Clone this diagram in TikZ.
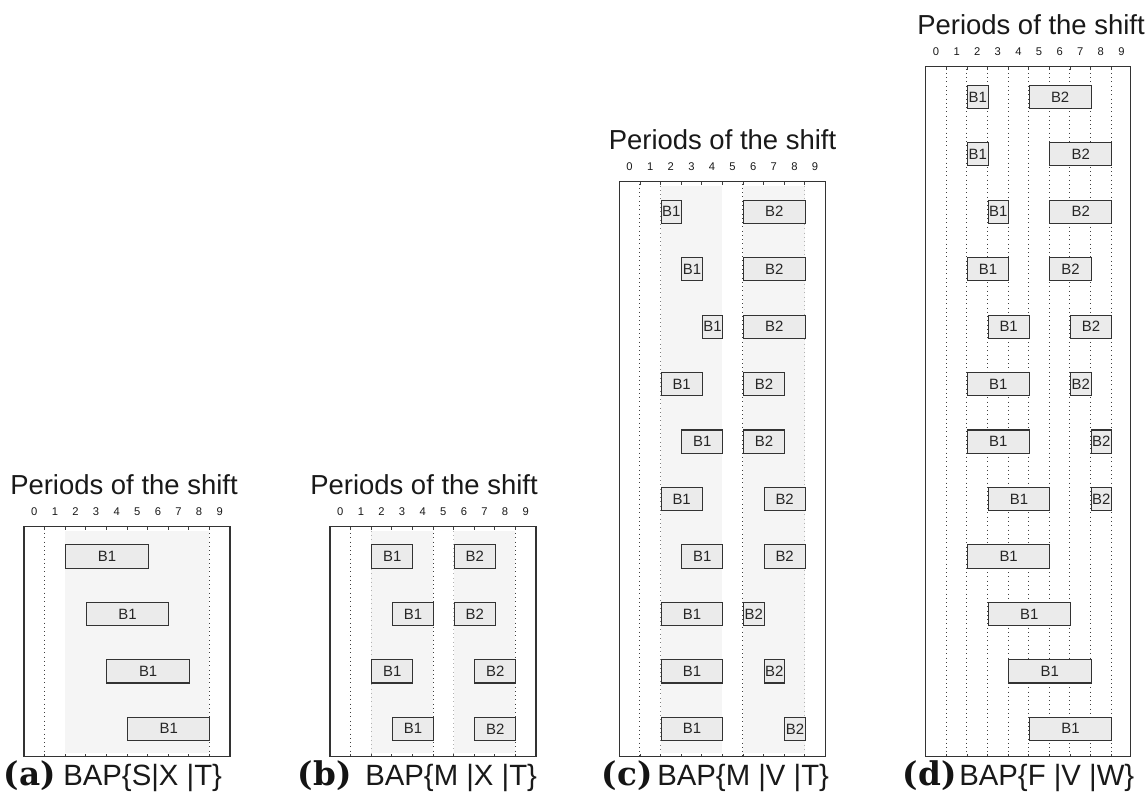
\documentclass[tikz,border=0pt]{standalone}
\usepackage{fontspec}
\setsansfont{Liberation Sans}
\newfontfamily\capserif{DejaVu Serif}
\begin{document}
\begin{tikzpicture}[x=0.75pt,y=-0.75pt,
  frame/.style={draw=black!80, line width=1.15pt},
  bx/.style={draw=black!80, fill=black!8, line width=0.8pt, inner sep=0pt,
    minimum height=17.4pt, anchor=north west, text=black!85,
    font=\sffamily\fontsize{11.2}{12}\selectfont},
  shd/.style={fill=black!4, draw=none},
  dotl/.style={black!75, line width=0.7pt, dash pattern=on 0.7pt off 2.5pt},
  dotm/.style={black!50, line width=0.6pt, dash pattern=on 0.7pt off 2.5pt},
  dotf/.style={black!30, line width=0.6pt, dash pattern=on 0.7pt off 2.5pt},
  tck/.style={black!75, line width=0.6pt},
  ttl/.style={font=\sffamily\fontsize{20.6}{24}\selectfont, anchor=base, text=black!90, inner sep=0pt},
  num/.style={font=\sffamily\fontsize{8.4}{10}\selectfont, anchor=base, text=black!90, inner sep=0pt},
  capb/.style={font=\capserif\bfseries\fontsize{24.5}{28}\selectfont, anchor=base east, inner sep=0pt, text=black!92},
  capt/.style={font=\sffamily\fontsize{22}{26}\selectfont, anchor=base west, inner sep=0pt, text=black!90}
]
\def\W{20.6}
\useasboundingbox (0,0) rectangle (1148,798);

% ---------------- panel (a) ----------------
\def\L{24}\def\T{526.7}\def\B{756.7}
\fill[shd] ({\L+2*\W},{\T+4}) rectangle ({\L+9*\W},{\B-4});
\foreach \i in {1,9} \draw[dotl] ({\L+\i*\W},{\T+2}) -- ({\L+\i*\W},\B);
\foreach \i in {1,...,9} {\draw[tck] ({\L+\i*\W},\T) -- ++(0,3); \draw[tck] ({\L+\i*\W},\B) -- ++(0,-3);}
\draw[frame] (\L,\T) rectangle ({\L+206},\B);
\node[ttl] (ta) at (124,{\T-32.5}) {Periods of the shift};
\foreach \i in {0,...,9} \node[num] (na\i) at ({\L+(\i+0.5)*\W},{\T-11}) {\i};
\foreach \s/\e [count=\k from 0] in {2/6,3/7,4/8,5/9}
  \node[bx, minimum width={(\e-\s)*\W*0.75pt}] (aA\k) at ({\L+\s*\W},{716.7-57.45*(3-\k)}) {B1};
\node[capb] (ca) at (56,785) {(a)};
\node[capt] (cta) at (63,785) {BAP\{S|X |T\}};

% ---------------- panel (b) ----------------
\def\L{330}\def\T{526.7}\def\B{756.7}
\fill[shd] ({\L+2*\W},{\T+4}) rectangle ({\L+5*\W},{\B-4});
\fill[shd] ({\L+6*\W},{\T+4}) rectangle ({\L+9*\W},{\B-4});
\foreach \i in {1,5,9} \draw[dotl] ({\L+\i*\W},{\T+2}) -- ({\L+\i*\W},\B);
\foreach \i in {2,6} \draw[dotf] ({\L+\i*\W},{\T+4}) -- ({\L+\i*\W},{\B-4});
\foreach \i in {1,...,9} {\draw[tck] ({\L+\i*\W},\T) -- ++(0,3); \draw[tck] ({\L+\i*\W},\B) -- ++(0,-3);}
\draw[frame] (\L,\T) rectangle ({\L+206},\B);
\node[ttl] (tb) at (424,{\T-32.5}) {Periods of the shift};
\foreach \i in {0,...,9} \node[num] (nb\i) at ({\L+(\i+0.5)*\W},{\T-11}) {\i};
\foreach \s/\e [count=\k from 0] in {2/4,3/5,2/4,3/5}
  \node[bx, minimum width={(\e-\s)*\W*0.75pt}] (bA\k) at ({\L+\s*\W},{716.7-57.45*(3-\k)}) {B1};
\foreach \s/\e [count=\k from 0] in {6/8,6/8,7/9,7/9}
  \node[bx, minimum width={(\e-\s)*\W*0.75pt}] (bB\k) at ({\L+\s*\W},{716.7-57.45*(3-\k)}) {B2};
\node[capb] (cb) at (352,785) {(b)};
\node[capt] (ctb) at (365,785) {BAP\{M |X |T\}};

% ---------------- panel (c) ----------------
\def\L{619.3}\def\T{181.7}\def\B{756.7}
\fill[shd] ({\L+2*\W},{\T+4}) rectangle ({\L+5*\W},{\B-4});
\fill[shd] ({\L+6*\W},{\T+4}) rectangle ({\L+9*\W},{\B-4});
\foreach \i in {1,6} \draw[dotl] ({\L+\i*\W},{\T+2}) -- ({\L+\i*\W},\B);
\draw[dotm] ({\L+2*\W},{\T+4}) -- ({\L+2*\W},{\B-4});
\draw[dotf] ({\L+9*\W},{\T+4}) -- ({\L+9*\W},{\B-4});
\foreach \i in {1,...,9} {\draw[tck] ({\L+\i*\W},\T) -- ++(0,3); \draw[tck] ({\L+\i*\W},\B) -- ++(0,-3);}
\draw[frame] (\L,\T) rectangle ({\L+206},\B);
\node[ttl] (tc) at (722.5,{\T-32.5}) {Periods of the shift};
\foreach \i in {0,...,9} \node[num] (nc\i) at ({\L+(\i+0.5)*\W},{\T-11}) {\i};
\foreach \s/\e [count=\k from 0] in {2/3,3/4,4/5,2/4,3/5,2/4,3/5,2/5,2/5,2/5}
  \node[bx, minimum width={(\e-\s)*\W*0.75pt}] (cA\k) at ({\L+\s*\W},{716.7-57.45*(9-\k)}) {B1};
\foreach \s/\e [count=\k from 0] in {6/9,6/9,6/9,6/8,6/8,7/9,7/9,6/7,7/8,8/9}
  \node[bx, minimum width={(\e-\s)*\W*0.75pt}] (cB\k) at ({\L+\s*\W},{716.7-57.45*(9-\k)}) {B2};
\node[capb] (cc) at (653,785) {(c)};
\node[capt] (ctc) at (657,785) {BAP\{M |V |T\}};

% ---------------- panel (d) ----------------
\def\L{925.7}\def\T{66.7}\def\B{756.7}
\foreach \i in {1,...,9} \draw[dotl] ({\L+\i*\W},{\T+2}) -- ({\L+\i*\W},\B);
\foreach \i in {1,...,9} {\draw[tck] ({\L+\i*\W},\T) -- ++(0,3); \draw[tck] ({\L+\i*\W},\B) -- ++(0,-3);}
\draw[frame] (\L,\T) rectangle ({\L+205},\B);
\node[ttl] (td) at (1031,{\T-32.5}) {Periods of the shift};
\foreach \i in {0,...,9} \node[num] (nd\i) at ({\L+(\i+0.5)*\W},{\T-11}) {\i};
\foreach \s/\e [count=\k from 0] in {2/3,2/3,3/4,2/4,3/5,2/5,2/5,3/6,2/6,3/7,4/8,5/9}
  \node[bx, minimum width={(\e-\s)*\W*0.75pt}] (dA\k) at ({\L+\s*\W},{716.7-57.45*(11-\k)}) {B1};
\foreach \s/\e [count=\k from 0] in {5/8,6/9,6/9,6/8,7/9,7/8,8/9,8/9}
  \node[bx, minimum width={(\e-\s)*\W*0.75pt}] (dB\k) at ({\L+\s*\W},{716.7-57.45*(11-\k)}) {B2};
\node[capb] (cd) at (957,785) {(d)};
\node[capt] (ctd) at (959,785) {BAP\{F |V |W\}};
\end{tikzpicture}
\end{document}
